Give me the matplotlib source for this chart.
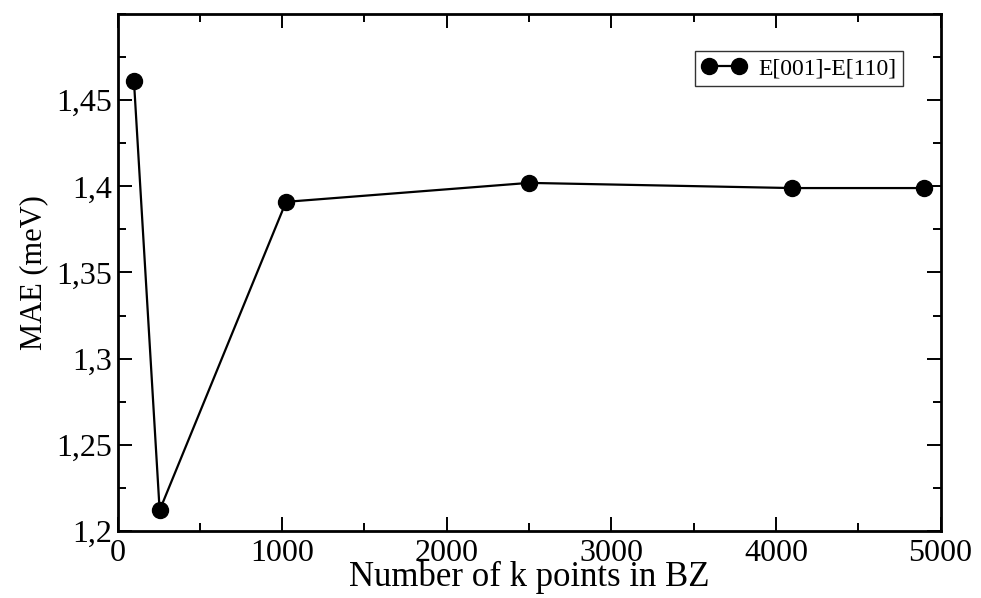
import matplotlib
matplotlib.use("Agg")
import matplotlib.pyplot as plt
from matplotlib.ticker import MultipleLocator, FuncFormatter

plt.rcParams['font.family'] = ['Liberation Serif', 'DejaVu Serif']

# k-point convergence of the anisotropy energy
kpoints = [100, 256, 1024, 2500, 4096, 4900]
mae = [1.461, 1.212, 1.391, 1.402, 1.399, 1.399]

fig = plt.figure(figsize=(9.81, 5.98), dpi=100)
ax = fig.add_axes([117.5 / 981, 1 - 531 / 598, (940.5 - 117.5) / 981, (531 - 14) / 598])

ax.plot(kpoints, mae, 'k-', lw=1.6, marker='o', ms=11.5, label='E[001]-E[110]')

ax.set_xlim(0, 5000)
ax.set_ylim(1.2, 1.5)
ax.xaxis.set_major_locator(MultipleLocator(1000))
ax.xaxis.set_minor_locator(MultipleLocator(500))
ax.set_yticks([1.2, 1.25, 1.3, 1.35, 1.4, 1.45])
ax.yaxis.set_minor_locator(MultipleLocator(0.025))


def comma(v, pos):
    s = ('%.2f' % v).rstrip('0')
    if s.endswith('.'):
        s = s[:-1]
    return s.replace('.', ',')


ax.yaxis.set_major_formatter(FuncFormatter(comma))

for sp in ax.spines.values():
    sp.set_linewidth(2.0)
ax.tick_params(which='both', direction='in', top=True, right=True, width=1.4)
ax.tick_params(which='major', length=10, labelsize=23, pad=4)
ax.tick_params(which='minor', length=5.5)
ax.tick_params(axis='x', pad=6)

ax.set_xlabel('Number of k points in BZ', fontsize=25, labelpad=-6)
ax.set_ylabel('MAE (meV)', fontsize=22, labelpad=6)

leg = ax.legend(loc='upper right', bbox_to_anchor=(0.955, 0.929), fontsize=17,
                frameon=True, fancybox=False, handlelength=1.9, borderpad=0.3,
                handletextpad=0.5, numpoints=2, borderaxespad=0)
leg.get_frame().set_edgecolor('black')
leg.get_frame().set_linewidth(1.0)

fig.savefig('out.png', dpi=100)
